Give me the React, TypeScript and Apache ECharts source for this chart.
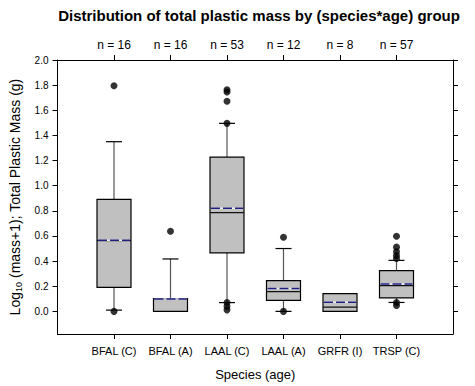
import React, { useEffect, useRef } from "react";
import * as echarts from "echarts";

const categories = ["BFAL (C)", "BFAL (A)", "LAAL (C)", "LAAL (A)", "GRFR (I)", "TRSP (C)"];
const counts = [16, 16, 53, 12, 8, 57];
const lowerWhisker = [0.01, 0.0, 0.07, 0.0, 0.0, 0.071];
const q1 = [0.191, 0.0, 0.466, 0.087, 0.0, 0.107];
const median = [0.563, 0.1, 0.786, 0.157, 0.034, 0.205];
const mean = [0.565, 0.098, 0.82, 0.183, 0.073, 0.217];
const q3 = [0.891, 0.102, 1.227, 0.244, 0.142, 0.325];
const upperWhisker = [1.35, 0.417, 1.496, 0.5, 0.142, 0.406];
const outliers: number[][] = [
  [1.795, 0.0],
  [0.637],
  [1.764, 1.745, 1.672, 1.496, 0.07, 0.04, 0.012],
  [0.59, 0.0],
  [],
  [0.598, 0.511, 0.474, 0.445, 0.42, 0.071, 0.047],
];
const yTicks = [0, 0.2, 0.4, 0.6, 0.8, 1.0, 1.2, 1.4, 1.6, 1.8, 2.0];
const xPositions = [1, 2, 3, 4, 5, 6];

export default function App() {
  const ref = useRef<HTMLDivElement>(null);
  useEffect(() => {
    if (!ref.current) return;
    const chart = echarts.init(ref.current, undefined, { renderer: "svg" });
    const font = "Liberation Sans, Arial, sans-serif";
    const boxData = categories.map((_, i) => [
      xPositions[i],
      lowerWhisker[i],
      q1[i],
      median[i],
      mean[i],
      q3[i],
      upperWhisker[i],
    ]);
    const outlierData: number[][] = [];
    outliers.forEach((arr, i) => arr.forEach((v) => outlierData.push([xPositions[i], v])));

    const axisLineStyle = { color: "#000", width: 1 };
    chart.setOption({
      animation: false,
      title: {
        text: "Distribution of total plastic mass by (species*age) group",
        left: 254,
        textAlign: "center",
        top: 3,
        textStyle: { fontFamily: font, fontSize: 15, fontWeight: "bold", color: "#000" },
      },
      grid: { left: 54, right: 22, top: 60, bottom: 49, containLabel: false },
      xAxis: [
        {
          type: "value",
          min: 0,
          max: 7,
          position: "bottom",
          splitLine: { show: false },
          axisLine: { show: true, onZero: false, lineStyle: axisLineStyle },
          axisTick: { show: true, customValues: xPositions, length: 5, lineStyle: axisLineStyle },
          axisLabel: {
            customValues: xPositions,
            formatter: (v: number) => categories[Math.round(v) - 1] ?? "",
            fontFamily: font,
            fontSize: 11,
            color: "#000",
            margin: 11,
          },
          name: "Species (age)",
          nameLocation: "middle",
          nameGap: 34,
          nameTextStyle: { fontFamily: font, fontSize: 13, color: "#000" },
        },
        {
          type: "value",
          min: 0,
          max: 7,
          position: "top",
          splitLine: { show: false },
          axisLine: { show: true, onZero: false, lineStyle: axisLineStyle },
          axisTick: { show: true, customValues: xPositions, length: 5, lineStyle: axisLineStyle },
          axisLabel: {
            customValues: xPositions,
            formatter: (v: number) => {
              const c = counts[Math.round(v) - 1];
              return c === undefined ? "" : "n = " + c;
            },
            fontFamily: font,
            fontSize: 12,
            color: "#000",
            margin: 9,
          },
        },
      ],
      yAxis: [
        {
          type: "value",
          min: -0.18,
          max: 2.0,
          position: "left",
          splitLine: { show: false },
          axisLine: { show: true, onZero: false, lineStyle: axisLineStyle },
          axisTick: { show: true, customValues: yTicks, length: 5, lineStyle: axisLineStyle },
          axisLabel: {
            customValues: yTicks,
            formatter: (v: number) => v.toFixed(1),
            fontFamily: font,
            fontSize: 10,
            color: "#000",
            margin: 9,
          },
          name: "{a|Log}{s|10}{a| (mass+1); Total Plastic Mass (g)}",
          nameLocation: "middle",
          nameRotate: 90,
          nameGap: 34,
          nameTextStyle: {
            rich: {
              a: { fontFamily: font, fontSize: 14, color: "#000", lineHeight: 17, verticalAlign: "middle" },
              s: { fontFamily: font, fontSize: 9, color: "#000", lineHeight: 17, verticalAlign: "bottom", padding: [6, 0, 0, 0] },
            },
          },
        },
        {
          type: "value",
          min: -0.18,
          max: 2.0,
          position: "right",
          splitLine: { show: false },
          axisLine: { show: true, onZero: false, lineStyle: axisLineStyle },
          axisTick: { show: true, customValues: yTicks, length: 5, lineStyle: axisLineStyle },
          axisLabel: { show: false },
        },
      ],
      series: [
        {
          type: "custom",
          xAxisIndex: 0,
          yAxisIndex: 0,
          data: boxData,
          encode: { x: 0, y: [1, 2, 3, 4, 5, 6] },
          renderItem: (params: any, api: any) => {
            const x = api.value(0);
            const lw = api.value(1);
            const b1 = api.value(2);
            const md = api.value(3);
            const mn = api.value(4);
            const b3 = api.value(5);
            const uw = api.value(6);
            const cx = api.coord([x, 0])[0];
            const y = (v: number) => api.coord([x, v])[1];
            const hw = 17;
            const cw = 8;
            const children: any[] = [];
            if (uw > b3) {
              children.push({
                type: "line",
                shape: { x1: cx, y1: y(b3), x2: cx, y2: y(uw) },
                style: { stroke: "#555", lineWidth: 1.2 },
              });
              children.push({
                type: "line",
                shape: { x1: cx - cw, y1: y(uw), x2: cx + cw, y2: y(uw) },
                style: { stroke: "#000", lineWidth: 1.2 },
              });
            }
            if (lw < b1) {
              children.push({
                type: "line",
                shape: { x1: cx, y1: y(b1), x2: cx, y2: y(lw) },
                style: { stroke: "#555", lineWidth: 1.2 },
              });
              children.push({
                type: "line",
                shape: { x1: cx - cw, y1: y(lw), x2: cx + cw, y2: y(lw) },
                style: { stroke: "#000", lineWidth: 1.2 },
              });
            }
            children.push({
              type: "rect",
              shape: { x: cx - hw, y: y(b3), width: 2 * hw, height: y(b1) - y(b3) },
              style: { fill: "#c0c0c0", stroke: "#000", lineWidth: 1.2 },
            });
            children.push({
              type: "line",
              shape: { x1: cx - hw, y1: y(md), x2: cx + hw, y2: y(md) },
              style: { stroke: "#111", lineWidth: 1.3 },
            });
            children.push({
              type: "line",
              shape: { x1: cx - hw + 1, y1: y(mn), x2: cx + hw - 1, y2: y(mn) },
              style: { stroke: "#f0f0f8", lineWidth: 1.5 },
            });
            children.push({
              type: "line",
              shape: { x1: cx - hw + 1, y1: y(mn), x2: cx + hw - 1, y2: y(mn) },
              style: { stroke: "#1f1f80", lineWidth: 1.5, lineDash: [9, 3] },
            });
            return { type: "group", children };
          },
          z: 2,
        },
        {
          type: "scatter",
          xAxisIndex: 0,
          yAxisIndex: 0,
          data: outlierData,
          symbol: "circle",
          symbolSize: 7,
          itemStyle: { color: "#000" },
          z: 3,
        },
      ],
    });
    return () => chart.dispose();
  }, []);
  return (
    <div
      ref={ref}
      style={{ position: "absolute", left: 0, top: 0, width: 475, height: 386 }}
    />
  );
}
